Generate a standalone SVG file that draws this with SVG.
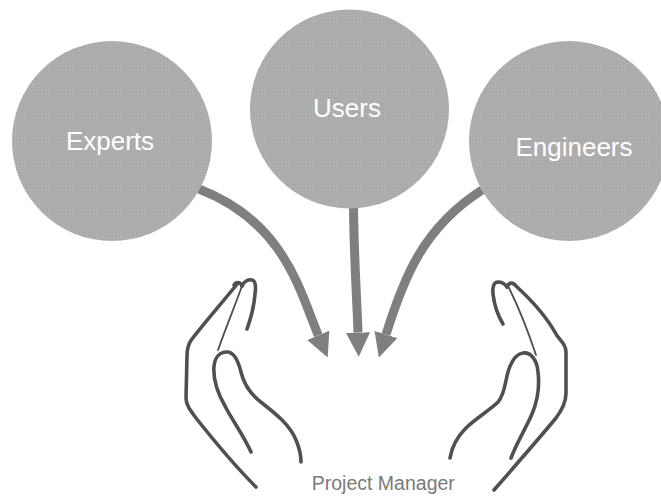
<svg xmlns="http://www.w3.org/2000/svg" width="661" height="498" viewBox="0 0 661 498">
  <defs>
    <!-- fine dithered grey used to fill the stakeholder discs -->
    <pattern id="grain" width="3" height="3" patternUnits="userSpaceOnUse">
      <rect width="3" height="3" fill="#a9a9a9"/>
      <rect width="1" height="3" fill="#b1b1b1"/>
      <rect width="3" height="1" fill="#afafaf"/>
    </pattern>
    <marker id="head" viewBox="0 0 24 24" refX="0" refY="12" markerWidth="24" markerHeight="24" markerUnits="userSpaceOnUse" orient="auto">
      <path d="M0,0 L24,12 L0,24 z" fill="#7f7f7f"/>
    </marker>
    <style>
      .disc { fill: url(#grain); }
      .label { font-family: "Liberation Sans", Arial, sans-serif; font-size: 26px; fill: #ffffff; text-anchor: middle; }
      .caption { font-family: "Liberation Sans", Arial, sans-serif; font-size: 19.5px; fill: #7a7a7a; text-anchor: middle; }
      .flow { fill: none; stroke: #7f7f7f; stroke-width: 9; stroke-linecap: butt; marker-end: url(#head); }
      .ink { fill: none; stroke: #505050; stroke-width: 3.6; stroke-linecap: round; stroke-linejoin: round; }
      .ink-thin { fill: none; stroke: #505050; stroke-width: 1.8; stroke-linecap: round; }
    </style>
  </defs>

  <rect width="661" height="498" fill="#ffffff"/>

  <!-- arrows feeding into the project manager -->
  <g id="connectors">
    <path class="flow" d="M199,189 C285,222 300,292 318.3,335.3"/>
    <path class="flow" d="M353.5,206 C354,260 357,300 358,332.7"/>
    <path class="flow" d="M482,190 C423,228 404,277 386,334.5"/>
  </g>

  <g id="node-experts">
    <circle class="disc" cx="112" cy="141" r="100"/>
    <text class="label" x="110" y="150">Experts</text>
  </g>

  <g id="node-users">
    <circle class="disc" cx="349.5" cy="109" r="99.5"/>
    <text class="label" x="347" y="116.7">Users</text>
  </g>

  <g id="node-engineers">
    <circle class="disc" cx="569" cy="141" r="100"/>
    <text class="label" x="574" y="156">Engineers</text>
  </g>

  <!-- cupped hands holding the incoming flows -->
  <g id="node-manager">
    <g id="hand-left">
      <path class="ink" d="M238,283 C226,298 205,322 192,339 C188,344 187,348 187,356 L186,398 C186,405 190,410 196,418 C215,442 235,466 256,487"/>
      <path class="ink" d="M234,285 C236,282 240,281 242,286"/>
      <path class="ink-thin" d="M242,286 C236,303 228,322 218,350"/>
      <path class="ink" d="M242,286 C244,281 249,279 252,280 C256,281 256,287 255,294 C254,307 251,318 247,329"/>
      <path class="ink" d="M251,452 C244,436 232,420 225,406 C217,392 213,378 214,366 C215,357 220,352 227,352 C234,352 238,360 241,372 C244,385 250,394 262,403 C276,414 290,425 296,440 C299,447 301,455 301,462"/>
    </g>
    <g id="hand-right">
      <path class="ink" d="M507,287 C509,282 513,282 516,286 C528,297 545,314 556,334 C559,340 566,343 566,352 L566,393 C566,402 562,410 556,418 C536,442 515,466 494,490"/>
      <path class="ink" d="M503,324 C497,314 494,303 493,294 C492,287 494,282 498,282 C502,282 505,284 507,287"/>
      <path class="ink-thin" d="M509,288 C518,306 527,328 536,355"/>
      <path class="ink" d="M450,458 C452,445 458,436 466,428 C475,419 490,410 498,402 C505,394 505,382 508,372 C511,362 516,354 523,353 C531,352 537,360 538,372 C540,388 537,402 532,414 C526,428 517,442 511,458"/>
    </g>
    <text class="caption" x="383.3" y="490">Project Manager</text>
  </g>
</svg>
